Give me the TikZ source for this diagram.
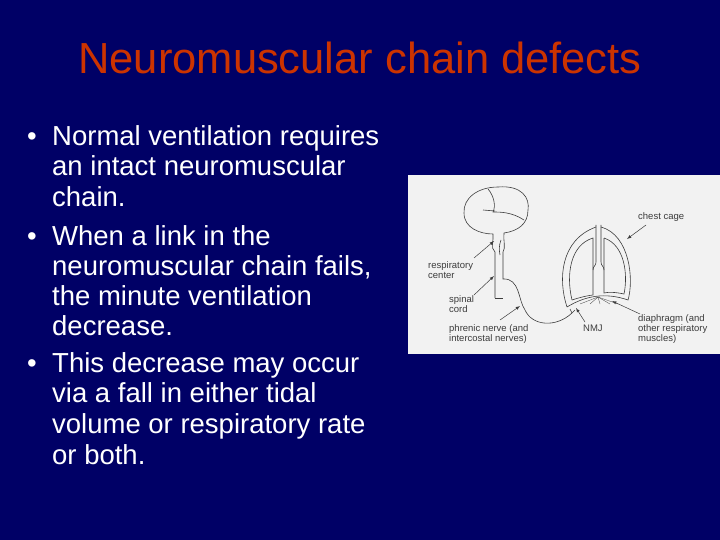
\documentclass[tikz,border=0pt]{standalone}
\usepackage{fontspec}
\setmainfont{Liberation Sans}
\definecolor{navy}{RGB}{0,0,102}
\definecolor{titlec}{RGB}{204,51,0}
\definecolor{ink}{RGB}{60,60,60}
\begin{document}
\begin{tikzpicture}[x=1pt,y=-1pt,
  bl/.style={anchor=base west,text=white,inner sep=0pt,font=\fontsize{27.5}{30}\selectfont},
  lab/.style={anchor=base west,text=ink,inner sep=0pt,font=\fontsize{9.5}{10}\selectfont},
  ln/.style={draw=ink,line width=0.6pt},
  ar/.style={draw=ink,line width=0.5pt,-latex}]
\fill[navy] (0,0) rectangle (720,540);
\useasboundingbox (0,0) rectangle (720,540);
\node[text=titlec,font=\fontsize{43.5}{48}\selectfont] (title) at (360,58) {Neuromuscular chain defects};
\foreach \y in {146,245,372} \node[bl] at (27,\y) {•};
\node[bl] (l1) at (52,146) {Normal ventilation requires};
\node[bl] (l2) at (52,176) {an intact neuromuscular};
\node[bl] (l3) at (52,207) {chain.};
\node[bl] (l4) at (52,245) {When a link in the};
\node[bl] (l5) at (52,275) {neuromuscular chain fails,};
\node[bl] (l6) at (52,305) {the minute ventilation};
\node[bl] (l7) at (52,335) {decrease.};
\node[bl] (l8) at (52,372) {This decrease may occur};
\node[bl] (l9) at (52,402) {via a fall in either tidal};
\node[bl] (l10) at (52,433) {volume or respiratory rate};
\node[bl] (l11) at (52,464) {or both.};
% figure
\fill[white!95!black] (408,175) rectangle (720,354);
% brain
\draw[ln] (493,234) .. controls (480,234) and (464,228) .. (464,213)
  .. controls (463,198) and (478,187) .. (498,187)
  .. controls (522,185) and (530,198) .. (528,210)
  .. controls (528,224) and (518,231) .. (504,233);
\draw[ln] (488,189) .. controls (494,196) and (496,206) .. (493,212)
  .. controls (500,212) and (512,212) .. (524,220);
\draw[ln] (483,210) -- (495,211);
% brainstem and cord
\draw[ln] (493,234) .. controls (494,240) and (490,248) .. (495,252) -- (495,298);
\draw[ln] (504,233) .. controls (503,240) and (506,248) .. (503,252) -- (503,279)
  .. controls (520,278) and (518,300) .. (525,310)
  .. controls (532,326) and (556,328) .. (572,313);
\draw[ln] (495,298) -- (503,298);
\draw[ln] (501,240) .. controls (499,245) and (499,250) .. (500,255);
\draw[ln] (572,313) -- (570,309) (572,313) -- (575,310);
% chest cage
\draw[ln] (567,307) .. controls (558,280) and (560,240) .. (596,227)
  (601,227) .. controls (630,235) and (634,280) .. (628,300)
  .. controls (605,292) and (585,296) .. (567,307);
\draw[ln] (572,300) .. controls (566,275) and (570,245) .. (593,238) -- (593,295)
  .. controls (585,296) and (578,298) .. (572,300);
\draw[ln] (604,238) .. controls (625,245) and (628,275) .. (624,294)
  .. controls (615,292) and (608,292) .. (604,293) -- (604,238);
\draw[ln] (596,225) -- (596,262) .. controls (596,266) and (593,266) .. (593,270);
\draw[ln] (601,225) -- (601,262) .. controls (601,266) and (604,266) .. (604,270);
\foreach \x in {580,590,600,610,618} \draw[ink,line width=0.3pt] (598,297) -- (\x,304);
% labels
\node[lab] (chest) at (638,219) {chest cage};
\node[lab] (resp1) at (428,268) {respiratory};
\node[lab] (resp2) at (428,278) {center};
\node[lab] (sp1) at (449,302) {spinal};
\node[lab] (sp2) at (449,312) {cord};
\node[lab] (ph1) at (449,331) {phrenic nerve (and};
\node[lab] (ph2) at (449,341) {intercostal nerves)};
\node[lab] (nmj) at (583,331) {NMJ};
\node[lab] (d1) at (638,321) {diaphragm (and};
\node[lab] (d2) at (638,331) {other respiratory};
\node[lab] (d3) at (638,341) {muscles)};
\coordinate (cc) at (627,239); \coordinate (rc) at (494,241);
\coordinate (scc) at (494,276); \coordinate (nv) at (520,306);
\coordinate (nj) at (576,308); \coordinate (dg) at (612,301);
\draw[ar] (646,225) -- (cc);
\draw[ar] (474,258) -- (rc);
\draw[ar] (474,295) -- (scc);
\draw[ar] (500,320) -- (nv);
\draw[ar] (585,322) -- (nj);
\draw[ar] (640,314) -- (dg);
\end{tikzpicture}
\end{document}
